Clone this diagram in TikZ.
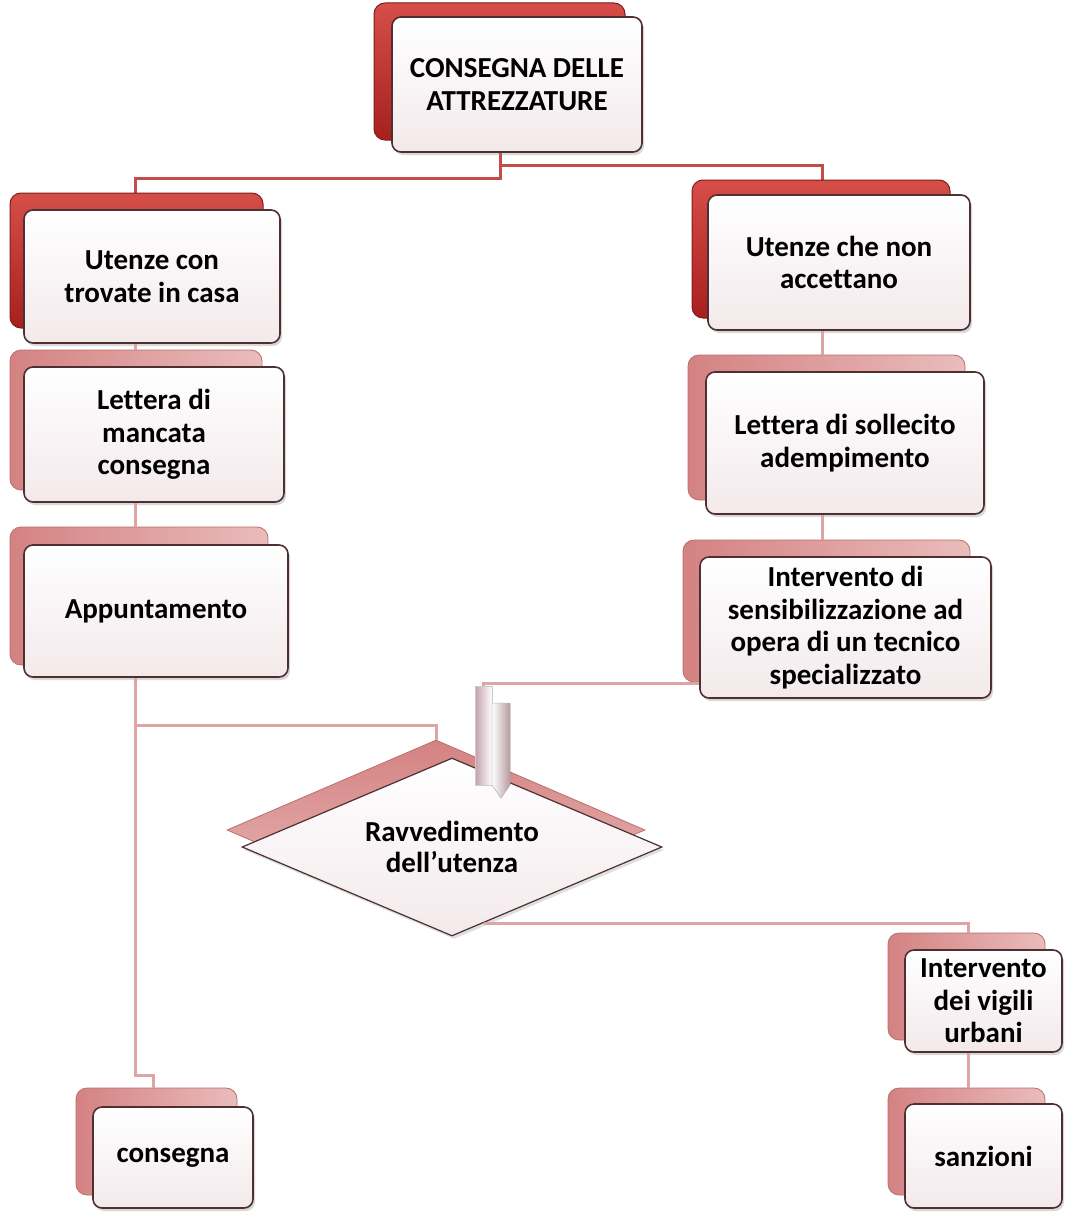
\documentclass[tikz,border=0pt]{standalone}
\usepackage{fontspec}
\setmainfont{Carlito}[Ligatures=NoCommon]
\usetikzlibrary{shadows,shapes.geometric,calc}
\definecolor{redline}{RGB}{197,75,72}
\definecolor{pinkline}{RGB}{222,165,165}
\definecolor{redtop}{RGB}{214,78,72}
\definecolor{redbot}{RGB}{168,32,30}
\definecolor{reddark}{RGB}{125,30,28}
\definecolor{pinktop}{RGB}{212,130,130}
\definecolor{pinkbot}{RGB}{234,188,188}
\definecolor{pinkdark}{RGB}{185,110,110}
\definecolor{frontborder}{RGB}{78,48,48}
\definecolor{frontbot}{RGB}{243,233,235}
\definecolor{argray}{RGB}{196,160,168}
\begin{document}
\begin{tikzpicture}[x=1pt,y=-1pt,
  frontbox/.style={draw=frontborder, line width=1.6pt, rounded corners=9pt,
    top color=white, bottom color=frontbot,
    drop shadow={shadow xshift=2pt,shadow yshift=-3pt,opacity=0.3},
    font=\bfseries\fontsize{29}{32.5}\selectfont, align=center, inner sep=0pt},
  redback/.style={draw=reddark, line width=1pt, rounded corners=11pt,
    top color=redtop, bottom color=redbot, inner sep=0pt},
  pinkback/.style={draw=pinkdark, line width=0.8pt, rounded corners=11pt,
    left color=pinktop, right color=pinkbot, inner sep=0pt},
  redconn/.style={draw=redline, line width=3pt},
  pinkconn/.style={draw=pinkline, line width=3pt}]
\fill[white] (0,0) rectangle (1073,1220);
\useasboundingbox (0,0) rectangle (1073,1220);

% helper coordinates
\coordinate (x500) at (500,0);
\coordinate (x135) at (135,0);
\coordinate (x153) at (153,0);
\coordinate (x822) at (822,0);
\coordinate (x968) at (968,0);
\coordinate (y178) at (0,178);
\coordinate (y165) at (0,165);
\coordinate (y725) at (0,725);
\coordinate (y1075) at (0,1075);
\coordinate (ar) at (483,683);

% connectors (behind boxes)
\draw[redconn] (x500 |- 0,152) -- (x500 |- y178) -| (x135 |- 0,195);
\draw[redconn] (x500 |- y165) -| (x822 |- 0,182);

% back boxes
\node[redback, minimum width=251, minimum height=137] (tb) at (499.5,71.5) {};
\node[redback, minimum width=253, minimum height=135] (ub) at (136.5,260.5) {};
\node[pinkback, minimum width=252, minimum height=140] (lb) at (136,420) {};
\node[pinkback, minimum width=258, minimum height=138] (ab) at (139,596) {};
\node[redback, minimum width=258, minimum height=138] (nb) at (821,249) {};
\node[pinkback, minimum width=277, minimum height=145] (sb) at (826.5,427.5) {};
\node[pinkback, minimum width=287, minimum height=142] (ib) at (826.5,611) {};
\node[pinkback, minimum width=157, minimum height=107] (vb) at (966.5,986.5) {};
\node[pinkback, minimum width=157, minimum height=107] (zb) at (966.5,1141.5) {};
\node[pinkback, minimum width=161, minimum height=107] (cb) at (156.5,1141.5) {};

% front boxes
\node[frontbox, minimum width=250, minimum height=135] (t) at (517,84.5) {CONSEGNA DELLE\\ATTREZZATURE};
\node[frontbox, minimum width=256, minimum height=133] (u) at (152,276.5) {Utenze con\\trovate in casa};
\node[frontbox, minimum width=260, minimum height=135] (l) at (154,434.5) {Lettera di\\mancata\\consegna};
\node[frontbox, minimum width=264, minimum height=132] (a) at (156,611) {Appuntamento};
\node[frontbox, minimum width=262, minimum height=135] (n) at (839,262.5) {Utenze che non\\accettano};
\node[frontbox, minimum width=278, minimum height=142] (s) at (845,443) {Lettera di sollecito\\adempimento};
\node[frontbox, minimum width=291, minimum height=141] (i) at (845.5,627.5) {Intervento di\\sensibilizzazione ad\\opera di un tecnico\\specializzato};
\node[frontbox, minimum width=157, minimum height=102] (v) at (983.5,1001) {Intervento\\dei vigili\\urbani};
\node[frontbox, minimum width=157, minimum height=104] (z) at (983.5,1156) {sanzioni};
\node[frontbox, minimum width=160, minimum height=101] (c) at (173,1157.5) {consegna};

% diamond
\node[diamond, draw=pinkdark, line width=0.8pt, top color=pinktop, bottom color=pinkbot,
  minimum width=418, minimum height=180, inner sep=0pt] (db) at (436,830) {};
\node[diamond, draw=frontborder, line width=1.2pt, top color=white, bottom color=frontbot,
  drop shadow={shadow xshift=2pt,shadow yshift=-3pt,opacity=0.25},
  minimum width=420, minimum height=178, inner sep=0pt] (d) at (452,847) {};
\node[font=\bfseries\fontsize{29}{31}\selectfont, align=center] (dt) at (452,847) {Ravvedimento\\dell’utenza};

% pink connectors
\draw[pinkconn] (u.south -| x135) -- (lb.north -| x135);
\draw[pinkconn] (l.south -| x135) -- (ab.north -| x135);
\draw[pinkconn] (n.south -| x822) -- (sb.north -| x822);
\draw[pinkconn] (s.south -| x822) -- (ib.north -| x822);
\draw[pinkconn] (a.south -| x135) -- (x135 |- y1075) -| (cb.north -| x153);
\draw[pinkconn] (x135 |- y725) -| (db.north);
\draw[pinkconn] (i.west |- ar) -- (ar) -- ++(0,4);
\coordinate (dedge) at ($(d.south)!0.15!(d.east)$);
\draw[pinkconn] (dedge) -| (vb.north -| x968);
\draw[pinkconn] (v.south -| x968) -- (zb.north -| x968);

% block arrow
\fill[left color=argray, right color=white] (475,686) rectangle (492,785);
\draw[gray!40, line width=0.5pt] (475,686) rectangle (492,785);
\fill[left color=white, right color=argray!80!gray] (492,703) -- (510,703) -- (510,785) -- (501,798) -- (492,785) -- cycle;
\draw[gray!50, line width=0.5pt] (492,703) -- (510,703) -- (510,785) -- (501,798) -- (492,785) -- cycle;
\end{tikzpicture}
\end{document}
